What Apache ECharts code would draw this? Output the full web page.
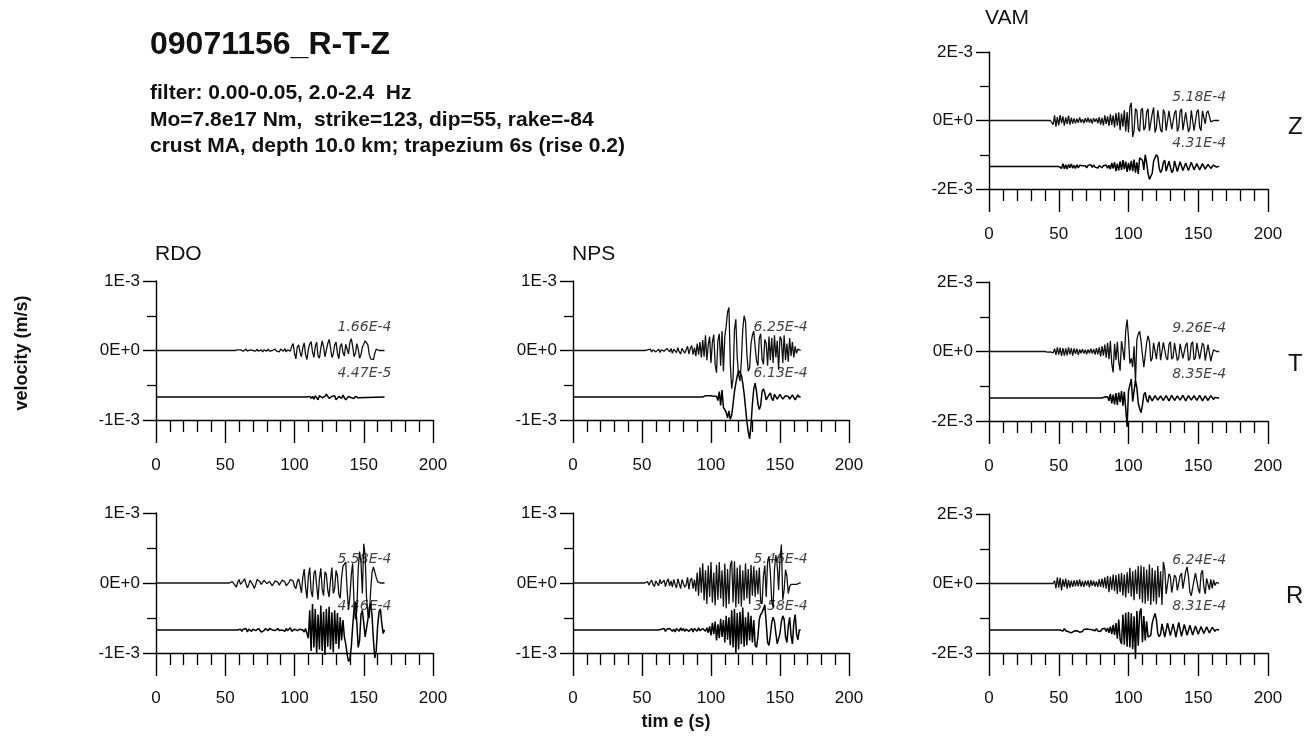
<!DOCTYPE html>
<html>
<head>
<meta charset="utf-8">
<title>09071156_R-T-Z</title>
<script src="https://cdn.jsdelivr.net/npm/echarts@6/dist/echarts.min.js"></script>
<style>
  html, body { margin: 0; padding: 0; background: #fff; }
  #chart { width: 1310px; height: 742px; }
</style>
</head>
<body>
<div id="chart"></div>
<script>
const valueUnit = 1e-5;

// tick labels of the two kinds of velocity axes
const yTicksSmall = ['-1E-3', '0E+0', '1E-3'];
const yTicksLarge = ['-2E-3', '0E+0', '2E-3'];

// peak amplitude labels (observed / synthetic)
const obsPeaks = ['5.18E-4', '1.66E-4', '6.25E-4', '9.26E-4', '5.58E-4', '5.46E-4', '6.24E-4'];
const synPeaks = ['4.31E-4', '4.47E-5', '6.13E-4', '8.35E-4', '4.46E-4', '3.58E-4', '8.31E-4'];

// VAM Z
const vamZObsStart = 45;
const vamZObs = [5,-12,15,-18,10,-14,16,-8,12,-15,9,-10,14,-12,8,-9,
  6,-8,5,-7,9,-6,4,-8,7,-5,8,-6,5,-9,7,-4,6,-8,
  10,-12,8,-14,15,-10,12,-16,18,-13,15,-20,22,-15,24,-28,20,-18,
  30,-32,25,-35,40,52,-48,-30,35,28,-25,-32,30,36,-28,-20,
  25,34,-30,-26,20,38,-35,-22,30,25,-28,-34,32,20,-30,-26,
  28,32,-25,-30,22,30,-32,-20,26,34,-28,-30,24,28,-34,-22,
  30,26,-30,-28,25,32,-20,-30,28,24,-10,22,28,12,-4,-2,0,0,0,0];
const vamZSynStart = 51;
const vamZSyn = [4,-6,8,-7,5,-8,6,-4,7,-5,3,-6,5,-4,3,-2,2,-3,
  2,-4,3,-2,5,-3,4,-2,3,-5,2,6,-4,2,-3,4,-5,3,
  -8,10,-6,12,-14,8,-12,15,-10,18,-8,14,-16,10,-12,16,
  -14,20,-18,12,-22,25,30,18,-10,34,10,-20,-38,-43,-20,15,
  25,34,28,-5,-18,-10,12,18,-14,-16,15,12,-18,-12,16,14,
  -15,-10,14,12,-12,-14,10,15,-12,-8,12,10,-10,-12,8,10,
  -10,-6,8,10,-8,-10,6,8,-6,-4,4,2,-2,0];

// RDO T
const rdoTObsStart = 58;
const rdoTObs = [0,1,-1,1,0,-1,1,2,-1,0,1,-1,0,
  1,-1,2,-1,0,1,-2,1,0,-1,2,-1,1,0,-1,
  2,-1,1,-2,2,1,-1,3,-2,1,2,-1,
  6,10,-4,-12,5,8,-3,-9,4,11,-6,-13,2,
  9,13,-2,-10,6,12,-8,-11,3,14,5,-9,-7,10,16,
  4,-10,-5,8,12,-4,-12,6,10,-3,-8,9,11,-5,12,
  17,6,-9,-4,10,2,-11,-6,5,9,14,12,
  8,-6,-12,-10,-13,-4,2,0,0,0,0,0,0];
const rdoTSynStart = 110;
const rdoTSyn = [0,1,-2,1,-3,2,-1,-4,2,3,-1,-3,1,4,2,-2,-3,1,-1,2,
  -4,-3,1,2,-2,3,-1,-4,-2,1,2,-1,1,-2,1,0,-1,0];

// NPS T
const npsTObsStart = 53;
const npsTObs = [0,1,-1,2,-2,1,3,-2,-1,2,-3,1,2,-1,-2,3,1,-2,
  3,-4,2,1,-3,4,-2,-5,3,5,-4,-2,6,-5,3,7,-6,4,
  -8,10,-6,12,-10,15,-9,22,-14,8,20,-18,12,23,-20,-32,
  15,24,-22,28,-30,20,35,55,62,-20,-55,-40,30,45,-10,-35,
  -44,-15,30,50,42,-5,-30,-25,10,22,28,5,-15,-22,18,24,
  -12,-20,16,10,-22,20,-14,18,-18,22,-10,14,-28,20,16,-18,
  22,-14,10,-16,18,-8,12,-10,6,-4,2,0];
const npsTSynStart = 95;
const npsTSyn = [0,2,1,2,1,2,1,1,2,1,
  -5,8,-12,10,-15,-18,-22,-30,-20,-32,-26,-10,8,20,30,38,
  40,32,20,5,-15,-35,-50,-60,-40,-10,12,20,8,-10,-18,-12,
  8,12,6,-4,-6,3,6,-2,-5,4,6,-3,-2,4,
  5,-3,-5,2,4,1,-3,-2,3,5,-4,-2,3,0];

// VAM T
const vamTObsStart = 41;
const vamTObs = [1,-2,2,-1,3,-4,8,-10,12,-9,11,-13,10,-12,9,-11,
  12,-8,10,-12,9,-7,8,-10,6,-5,7,-6,5,-8,6,-5,
  8,-6,7,-9,10,-8,12,-14,15,-12,20,-18,25,-22,30,-35,
  -60,22,-25,28,-30,-55,30,35,-25,60,92,40,-35,-20,-45,15,
  -90,35,50,58,30,-10,-45,-40,25,45,30,-28,-20,25,30,-22,
  15,28,-25,-20,26,22,-18,-24,20,28,-22,-16,24,20,-26,-18,
  22,26,-20,-24,18,25,-26,-20,22,28,-24,-18,25,20,-22,-26,
  24,18,-26,-22,20,15,-28,-10,5,2,0,0];
const vamTSynStart = 82;
const vamTSyn = [3,3,2,4,-8,12,-15,10,-18,14,-20,16,-12,20,-22,18,
  -30,-83,20,38,55,-10,20,50,30,-15,-30,-42,-20,10,16,-5,
  -12,8,10,-8,-6,7,8,-6,-8,6,9,-7,-8,7,6,-8,
  -6,8,7,-7,-8,6,8,-6,-7,8,6,-8,-7,7,8,-6,
  -8,7,8,-7,-6,8,7,-8,-7,6,8,-7,-6,7,5,-4,2,-1,0];

// RDO R
const rdoRObsStart = 54;
const rdoRObs = [0,2,4,-3,-6,1,5,-2,-4,3,6,-1,-7,-2,4,5,
  -3,-8,-2,5,6,2,-2,1,4,3,-1,-3,2,1,-4,-2,
  3,5,1,-3,-2,4,6,2,-4,-6,1,5,7,3,-5,-8,2,6,-3,
  -14,8,20,-6,-22,10,22,-12,-20,14,18,-4,-24,6,21,-9,
  -18,16,12,-10,-20,4,22,-15,-8,18,10,-16,-22,8,24,26,
  30,-10,-38,-20,12,28,-30,-52,-40,20,45,30,-15,56,40,-20,
  -45,-50,-10,15,23,22,8,2,2,0,0,0,0];
const rdoRSynStart = 60;
const rdoRSyn = [0,1,-2,1,-1,2,-3,1,2,-2,1,3,-1,-2,2,1,
  -3,-4,-1,2,1,-1,2,3,0,-2,-1,1,2,-1,1,0,
  1,-2,2,-1,1,3,-2,-3,1,2,-1,-2,1,2,0,-3,2,4,
  -12,28,-30,37,-25,30,-33,22,-28,35,-30,26,-36,30,-24,33,
  -28,25,-32,28,-20,24,-27,18,-15,14,-10,-20,
  -35,-45,-42,-25,5,30,40,10,-25,-15,22,28,10,-10,
  -8,15,32,38,20,-15,-40,-30,5,25,30,10,-5,0];

// NPS R
const npsRObsStart = 53;
const npsRObs = [0,2,-3,1,4,-2,-5,3,2,-4,5,-1,-3,4,-5,2,6,-4,
  3,-6,5,-2,-7,6,4,-8,5,7,-6,-3,8,-9,4,7,-8,5,
  -12,15,-18,22,-14,28,-25,18,-30,25,-20,30,-28,15,-32,26,
  -24,30,-22,18,-34,28,-36,20,-30,25,32,-28,31,-35,22,-30,
  26,-34,18,-25,28,-22,20,-30,26,-18,24,-20,18,-16,22,-25,
  -30,10,25,-20,30,38,15,-25,-35,20,40,25,-10,35,55,-24,
  -10,19,10,-15,-5,-2,-2,-2,-2,-2,-1,0];
const npsRSynStart = 63;
const npsRSyn = [0,1,-1,2,-2,1,-1,2,1,-2,1,-3,2,1,-2,3,-1,2,
  -2,1,3,-2,-1,2,-3,2,1,-2,3,-1,-3,2,1,-2,3,-4,
  5,-8,10,-6,12,-15,8,-12,16,-10,14,-18,20,-14,18,-22,
  28,-25,30,-34,24,-28,26,-20,32,-24,18,-22,25,-15,20,-18,
  14,-22,-25,-10,15,22,25,30,36,10,-18,-22,-8,10,18,12,
  -5,-20,-22,-5,12,20,15,-10,-18,5,18,-8,-20,10,22,-6,-14,0];

// VAM R
const vamRObsStart = 47;
const vamRObs = [8,-14,18,-12,16,-20,12,-10,14,-15,10,-12,8,-10,9,-8,
  10,-8,12,-9,7,-10,8,-6,9,-11,10,-7,8,-9,6,-10,
  12,-10,14,-12,18,-15,22,-25,20,-18,26,-22,24,-30,28,-25,
  30,-35,26,-40,32,-28,45,-38,35,-48,40,-30,50,-45,52,-55,
  48,-58,40,-50,55,-62,45,-52,38,-60,50,-40,35,-62,62,40,
  -30,-25,28,20,-26,-22,24,18,-20,-25,22,30,-15,-20,35,48,
  20,-25,-35,-38,10,30,32,-15,-28,28,38,-10,-30,15,20,-18,
  12,-14,10,-6,3,0];
const vamRSynStart = 52;
const vamRSyn = [2,-3,4,-2,3,-5,-6,-8,-5,-3,2,-2,3,-6,-8,-4,
  2,-2,3,-1,2,-3,1,3,-2,4,-3,2,-4,3,-2,5,
  -4,6,-8,10,-12,15,-14,20,-25,30,-28,-40,45,-42,50,-48,
  52,-50,48,-55,40,-83,55,-45,50,62,-35,40,-30,25,-20,-25,
  -15,20,35,48,30,-10,-19,-12,18,22,-20,-18,20,22,-16,-20,
  18,20,-20,-15,22,18,-18,-20,16,18,-15,-18,14,16,-14,-12,
  12,14,-12,-10,10,12,-10,-8,9,10,-8,-6,8,6,-4,2,0];

// end time of every trace (s)
const traceEnd = 165;

const fontFamily = '"Liberation Sans", Arial, sans-serif';

/**
 * Layout of the seven station panels, in the order of the peak labels.
 */
const panels = [
  { left: 989, top: 52, width: 279, height: 137, range: 2e-3, ticks: yTicksLarge,
    obs: [vamZObsStart, vamZObs], syn: [vamZSynStart, vamZSyn] },
  { left: 156, top: 281, width: 277, height: 139, range: 1e-3, ticks: yTicksSmall,
    obs: [rdoTObsStart, rdoTObs], syn: [rdoTSynStart, rdoTSyn] },
  { left: 573, top: 281, width: 276, height: 139, range: 1e-3, ticks: yTicksSmall,
    obs: [npsTObsStart, npsTObs], syn: [npsTSynStart, npsTSyn] },
  { left: 989, top: 282, width: 279, height: 139, range: 2e-3, ticks: yTicksLarge,
    obs: [vamTObsStart, vamTObs], syn: [vamTSynStart, vamTSyn] },
  { left: 156, top: 513, width: 277, height: 140, range: 1e-3, ticks: yTicksSmall,
    obs: [rdoRObsStart, rdoRObs], syn: [rdoRSynStart, rdoRSyn] },
  { left: 573, top: 513, width: 276, height: 140, range: 1e-3, ticks: yTicksSmall,
    obs: [npsRObsStart, npsRObs], syn: [npsRSynStart, npsRSyn] },
  { left: 989, top: 514, width: 279, height: 139, range: 2e-3, ticks: yTicksLarge,
    obs: [vamRObsStart, vamRObs], syn: [vamRSynStart, vamRSyn] }
];

/**
 * Turns one sampled trace into [time, velocity] points, flat before the onset.
 *
 * @param {Number} start First sample time (s)
 * @param {Array} values Samples in valueUnit
 * @param {Number} base Baseline the trace is drawn around
 */
const toPoints = (start, values, base) => {
  const pts = [[0, base], [start - 1, base]];
  values.forEach((v, i) => pts.push([start + i, base + v * valueUnit]));
  const last = start + values.length - 1;
  if (last < traceEnd) {
    pts.push([traceEnd, base]);
  }
  return pts;
};

const grid = [];
const xAxis = [];
const yAxis = [];
const series = [];

panels.forEach((p, i) => {
  grid.push({ left: p.left, top: p.top, width: p.width, height: p.height });
  xAxis.push({
    gridIndex: i, type: 'value', min: 0, max: 200, interval: 50,
    axisLine: { onZero: false, lineStyle: { color: '#000', width: 1.4 } },
    axisTick: { show: true, length: 23, lineStyle: { color: '#000', width: 1.4 } },
    minorTick: { show: true, splitNumber: 5, length: 12, lineStyle: { color: '#000', width: 1.3 } },
    axisLabel: { margin: 37, fontSize: 17, color: '#111', fontFamily },
    splitLine: { show: false }
  });
  yAxis.push({
    gridIndex: i, type: 'value', min: -p.range, max: p.range, interval: p.range,
    axisLine: { show: true, lineStyle: { color: '#000', width: 1.4 } },
    axisTick: { show: true, length: 13, lineStyle: { color: '#000', width: 1.4 } },
    minorTick: { show: true, splitNumber: 2, length: 9, lineStyle: { color: '#000', width: 1.3 } },
    axisLabel: {
      margin: 16, fontSize: 17, color: '#111', fontFamily,
      formatter: (v) => (v < 0 ? p.ticks[0] : v > 0 ? p.ticks[2] : p.ticks[1])
    },
    splitLine: { show: false }
  });
  const synBase = -0.67 * p.range;
  series.push({
    type: 'line', xAxisIndex: i, yAxisIndex: i, showSymbol: false, symbol: 'none',
    clip: false, silent: true, lineStyle: { color: '#111', width: 1.3 },
    data: toPoints(p.obs[0], p.obs[1], 0)
  });
  series.push({
    type: 'line', xAxisIndex: i, yAxisIndex: i, showSymbol: false, symbol: 'none',
    clip: false, silent: true, lineStyle: { color: '#000', width: 1.5 },
    data: toPoints(p.syn[0], p.syn[1], synBase)
  });
  series.push({
    type: 'scatter', xAxisIndex: i, yAxisIndex: i, symbolSize: 0, silent: true,
    label: {
      show: true, position: 'left', distance: 0,
      formatter: (d) => d.value[2],
      fontSize: 14, fontStyle: 'italic', color: '#111', fontFamily: '"DejaVu Sans", sans-serif'
    },
    data: [[170, p.range / 3, obsPeaks[i]], [170, -p.range / 3, synPeaks[i]]]
  });
});

const textStyle = (font, text) => ({ text, font, fill: '#111' });

const graphic = [
  { type: 'text', left: 150, top: 29, style: textStyle('bold 32px ' + fontFamily, '09071156_R-T-Z') },
  { type: 'text', left: 150, top: 80, style: Object.assign(textStyle('bold 21px ' + fontFamily,
    'filter: 0.00-0.05, 2.0-2.4  Hz\nMo=7.8e17 Nm,  strike=123, dip=55, rake=-84\ncrust MA, depth 10.0 km; trapezium 6s (rise 0.2)'),
    { lineHeight: 26.5 }) },
  { type: 'text', left: 985, top: 8, style: textStyle('21px ' + fontFamily, 'VAM') },
  { type: 'text', left: 155, top: 244, style: textStyle('21px ' + fontFamily, 'RDO') },
  { type: 'text', left: 572, top: 244, style: textStyle('21px ' + fontFamily, 'NPS') },
  { type: 'text', left: 1288, top: 115, style: textStyle('24px ' + fontFamily, 'Z') },
  { type: 'text', left: 1288, top: 352, style: textStyle('24px ' + fontFamily, 'T') },
  { type: 'text', left: 1286, top: 584, style: textStyle('24px ' + fontFamily, 'R') },
  { type: 'text', x: 676, y: 722,
    style: Object.assign(textStyle('bold 18px ' + fontFamily, 'tim e (s)'),
      { align: 'center', verticalAlign: 'middle' }) },
  { type: 'text', x: 22, y: 353, rotation: Math.PI / 2,
    style: Object.assign(textStyle('bold 18px ' + fontFamily, 'velocity (m/s)'),
      { align: 'center', verticalAlign: 'middle' }) }
];

const chart = echarts.init(document.getElementById('chart'));
chart.setOption({
  animation: false,
  backgroundColor: '#fff',
  textStyle: { fontFamily },
  grid,
  xAxis,
  yAxis,
  series,
  graphic
});
</script>
</body>
</html>
